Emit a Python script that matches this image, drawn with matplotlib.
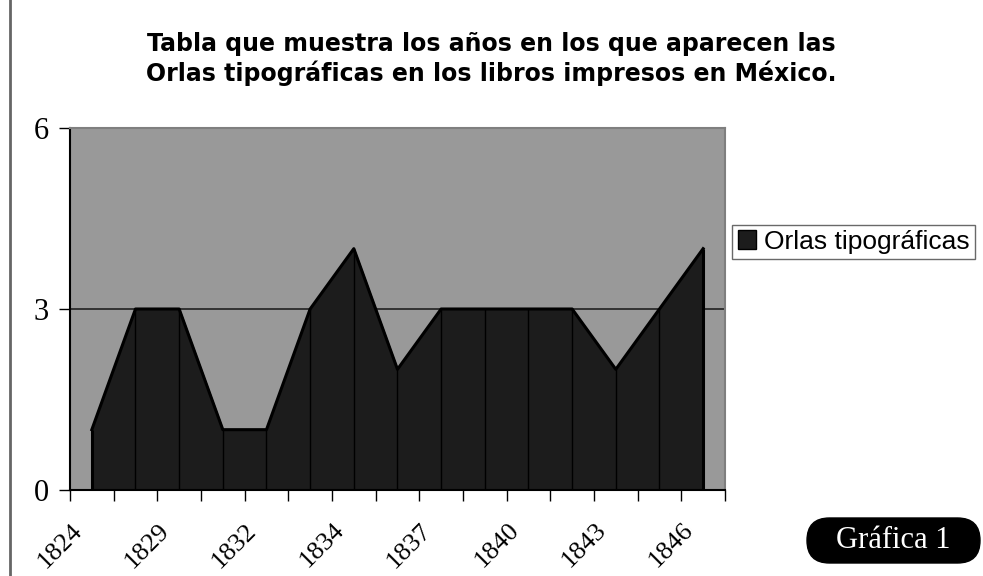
import matplotlib.pyplot as plt
from matplotlib.patches import FancyBboxPatch, Patch
from matplotlib.lines import Line2D
from matplotlib.transforms import ScaledTranslation
import numpy as np

# data: one value per category (15 categories)
values = [1, 3, 3, 1, 1, 3, 4, 2, 3, 3, 3, 3, 2, 3, 4]
# only every other category carries a year label
year_labels = ['1824', '1829', '1832', '1834', '1837', '1840', '1843', '1846']
y_ticks = [0, 3, 6]
series_name = 'Orlas tipográficas'
title = ('Tabla que muestra los años en los que aparecen las\n'
         'Orlas tipográficas en los libros impresos en México.')

fig = plt.figure(figsize=(9.83, 5.76), dpi=100)
ax = fig.add_axes([0.0712, 0.1493, 0.6663, 0.6285])

x = np.arange(len(values))
ax.set_facecolor('#999999')
ax.axhline(3, color='#222222', lw=1.2, zorder=1)
ax.fill_between(x, values, 0, color='#1c1c1c', zorder=2)
ax.vlines(x, 0, values, color='black', lw=1, zorder=3)
ax.plot(x, values, color='black', lw=2.2, zorder=4)
ax.vlines([x[0], x[-1]], 0, [values[0], values[-1]], color='black', lw=2.2, zorder=4)

ax.set_xlim(-0.5, len(values) - 0.5)
ax.set_ylim(0, 6)

# boundaries between categories get the tick marks
ax.set_xticks(np.arange(len(values) + 1) - 0.5, minor=True)
ax.tick_params(axis='x', which='minor', length=8, width=1, direction='out', color='black')
ax.set_xticks(x[::2])
ax.set_xticklabels(year_labels, rotation=45, ha='right', va='top',
                   rotation_mode='anchor', family='Liberation Serif', fontsize=19)
ax.tick_params(axis='x', which='major', length=0, pad=21)
shift = ScaledTranslation(-0.21, 0, fig.dpi_scale_trans)
for lbl in ax.get_xticklabels():
    lbl.set_transform(lbl.get_transform() + shift)

ax.set_yticks(y_ticks)
ax.set_yticklabels([str(v) for v in y_ticks], family='Liberation Serif', fontsize=22)
ax.tick_params(axis='y', length=8, width=1, direction='out', pad=7)

for side in ['left', 'bottom']:
    ax.spines[side].set_color('black')
    ax.spines[side].set_linewidth(1.5)
for side in ['top', 'right']:
    ax.spines[side].set_color('#7f7f7f')
    ax.spines[side].set_linewidth(1.5)

fig.text(0.5, 0.8976, title, ha='center', va='center', fontsize=17,
         family='DejaVu Sans', fontweight='bold', linespacing=1.2)

handle = Patch(facecolor='#1c1c1c', edgecolor='black', label=series_name)
leg = fig.legend(handles=[handle], loc='upper left', bbox_to_anchor=(0.745, 0.61),
                 frameon=True, fancybox=False, edgecolor='#444444',
                 prop={'family': 'Liberation Sans', 'size': 19},
                 handlelength=0.7, handleheight=0.7, handletextpad=0.3,
                 borderpad=0.2, borderaxespad=0)
leg.get_frame().set_linewidth(1)

# page edge line on the left
fig.add_artist(Line2D([0.0105, 0.0105], [0, 1], color='#666666', lw=2,
                      transform=fig.transFigure))

# "Gráfica 1" label, drawn in inches so the pill keeps its shape
box = FancyBboxPatch((8.07, 0.13), 1.73, 0.45,
                     boxstyle='round,pad=0,rounding_size=0.225',
                     transform=fig.dpi_scale_trans, facecolor='black',
                     edgecolor='black')
fig.add_artist(box)
fig.text(8.935, 0.35, 'Gráfica 1', color='white', ha='center', va='center',
         family='Liberation Serif', fontsize=22, transform=fig.dpi_scale_trans)

fig.savefig('out.png', dpi=100)
